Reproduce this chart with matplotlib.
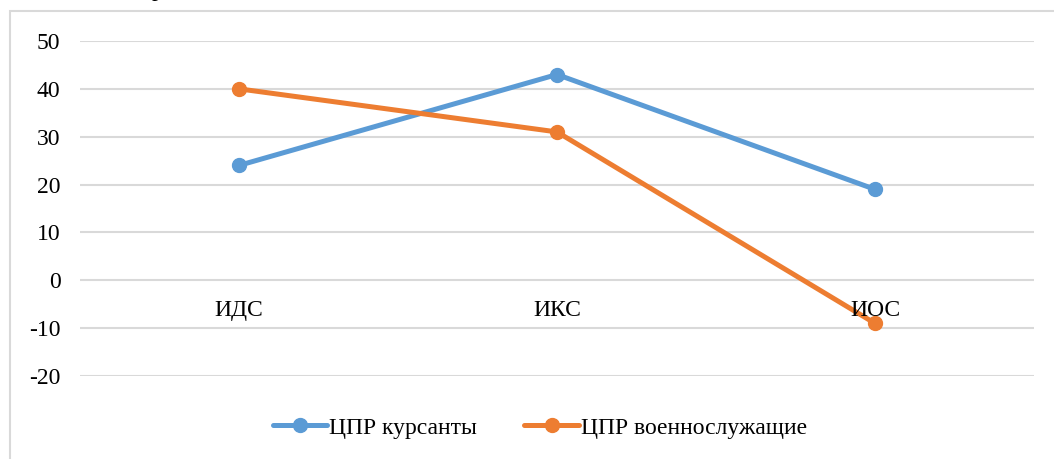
import matplotlib.pyplot as plt
from matplotlib.patches import Rectangle

categories = ['ИДС', 'ИКС', 'ИОС']
cadets = [24, 43, 19]
servicemen = [40, 31, -9]
yticks = [-20, -10, 0, 10, 20, 30, 40, 50]

blue = '#5B9BD5'
orange = '#ED7D31'

plt.rcParams['font.family'] = ['Liberation Serif', 'DejaVu Serif']

W, H = 1054, 459
fig = plt.figure(figsize=(W / 100, H / 100), dpi=100)
ax = fig.add_axes([80 / W, 1 - 376 / H, 954 / W, 335 / H])

# outer chart frame (clipped at right and bottom like the source)
fig.patches.append(Rectangle((10 / W, -0.1), 1.2, 1 - 11 / H + 0.1,
                             transform=fig.transFigure, fill=False,
                             edgecolor='#D9D9D9', linewidth=1.5))
# fragment of the caption above the frame
fig.text(157 / W, 1 + 4 / H, 'р', fontsize=17, ha='center', va='baseline')

x = [i + 0.5 for i in range(len(categories))]
ax.plot(x, cadets, color=blue, lw=3.6, marker='o', ms=10, label='ЦПР курсанты',
        solid_capstyle='round', zorder=3)
ax.plot(x, servicemen, color=orange, lw=3.6, marker='o', ms=10,
        label='ЦПР военнослужащие', solid_capstyle='round', zorder=3)

ax.set_xlim(0, 3)
ax.set_ylim(-20, 50)
ax.set_yticks(yticks)
ax.set_yticklabels([str(v) for v in yticks], fontsize=17)
ax.set_xticks([])
ax.tick_params(axis='y', length=0, pad=14)
for s in ax.spines.values():
    s.set_visible(False)
ax.grid(axis='y', color='#D9D9D9', lw=1.5)
ax.set_axisbelow(True)

for xi, c in zip(x, categories):
    ax.annotate(c, (xi, 0), xytext=(0, -14), textcoords='offset points',
                ha='center', va='top', fontsize=17, zorder=4)

ax.legend(loc='center', bbox_to_anchor=(540 / W, 1 - 428 / H),
          bbox_transform=fig.transFigure, ncol=2, frameon=False, fontsize=17,
          handlelength=2.3, handletextpad=0.1, columnspacing=2.0)

fig.savefig('out.png', dpi=100)
